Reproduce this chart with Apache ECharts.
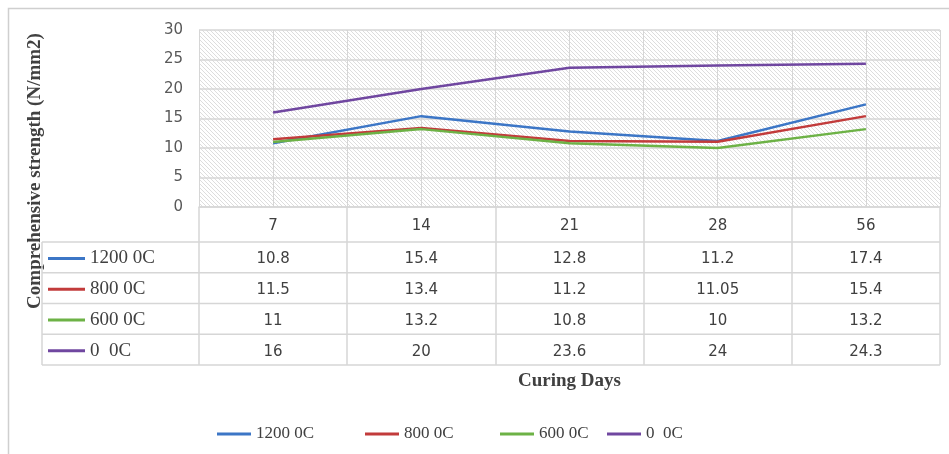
<!DOCTYPE html>
<html>
<head>
<meta charset="utf-8">
<script src="https://cdn.jsdelivr.net/npm/echarts@6/dist/echarts.min.js"></script>
<style>
html,body{margin:0;padding:0;background:#fff;}
#chart{width:949px;height:454px;}
</style>
</head>
<body>
<div id="chart"></div>
<script>
const days = ['7', '14', '21', '28', '56'];
const seriesNames = ['1200 0C', '800 0C', '600 0C', '0  0C'];
const s1200 = [10.8, 15.4, 12.8, 11.2, 17.4];
const s800 = [11.5, 13.4, 11.2, 11.05, 15.4];
const s600 = [11, 13.2, 10.8, 10, 13.2];
const s0 = [16, 20, 23.6, 24, 24.3];
const yTicks = [0, 5, 10, 15, 20, 25, 30];
const halfCols = ['a','b','c','d','e','f','g','h','i','j'];

const allSeries = [s1200, s800, s600, s0];
const colors = ['#3C76C6', '#C23B3B', '#6DB246', '#7047A0'];
const gridLine = '#d6d6d6';
const textCol = '#404040';

// hatched pattern
const pc = document.createElement('canvas');
pc.width = 4; pc.height = 4;
const pctx = pc.getContext('2d');
pctx.fillStyle = '#ffffff';
pctx.fillRect(0, 0, 4, 4);
pctx.strokeStyle = '#dddddd';
pctx.lineWidth = 1;
pctx.beginPath();
pctx.moveTo(-1, -1); pctx.lineTo(5, 5);
pctx.moveTo(-1, 3); pctx.lineTo(1, 5);
pctx.moveTo(3, -1); pctx.lineTo(5, 1);
pctx.stroke();

const chart = echarts.init(document.getElementById('chart'));

const G = {left: 199, right: 9, top: 30, bottom: 247};
const tableLeft = 42, tableRight = 940;
const rowTop = 242, rowH = 30.75;

const graphics = [
  {type: 'rect', shape: {x: 8.5, y: 8.5, width: 1000, height: 1000},
   style: {fill: 'none', stroke: '#cfcfcf', lineWidth: 1.5}, silent: true},
  {type: 'text', x: 35, y: 171, rotation: Math.PI / 2,
   style: {text: 'Comprehensive strength (N/mm2)', font: 'bold 19px "Liberation Serif", serif',
           fill: textCol, align: 'center', verticalAlign: 'middle'}},
  {type: 'line', shape: {x1: tableLeft, y1: rowTop, x2: tableLeft, y2: rowTop + 4 * rowH},
   style: {stroke: gridLine, lineWidth: 1.5}}
];
for (let k = 0; k <= seriesNames.length; k++) {
  const y = rowTop + k * rowH;
  graphics.push({type: 'line', shape: {x1: tableLeft, y1: y, x2: tableRight, y2: y},
    style: {stroke: gridLine, lineWidth: 1.5}});
}

const bottomLegendLeft = [212, 360, 495, 602];
const legends = [{
  orient: 'vertical', left: 43, top: 243.5, itemGap: 10.75,
  itemWidth: 37, itemHeight: 3, icon: 'rect',
  data: seriesNames, selectedMode: false,
  textStyle: {fontFamily: '"Liberation Serif", serif', fontSize: 19, color: textCol, lineHeight: 20}
}];
seriesNames.forEach((n, i) => {
  legends.push({
    left: bottomLegendLeft[i], top: 419, itemWidth: 34, itemHeight: 3, icon: 'rect',
    data: [n], selectedMode: false,
    textStyle: {fontFamily: '"Liberation Serif", serif', fontSize: 17, color: textCol, lineHeight: 20}
  });
});

const option = {
  backgroundColor: '#ffffff',
  animation: false,
  color: colors,
  grid: Object.assign({show: true, borderWidth: 0, backgroundColor: {image: pc, repeat: 'repeat'}}, G),
  legend: legends,
  xAxis: [{
    type: 'category', data: days, boundaryGap: true,
    name: 'Curing Days', nameLocation: 'middle', nameGap: 165,
    nameTextStyle: {fontFamily: '"Liberation Serif", serif', fontWeight: 'bold', fontSize: 19, color: textCol},
    axisLine: {show: true, lineStyle: {color: gridLine, width: 1.5}},
    axisTick: {show: true, interval: 0, length: 158, lineStyle: {color: gridLine, width: 1.5}},
    splitLine: {show: false},
    axisLabel: {
      interval: 0, margin: 2,
      formatter: function (v, i) {
        const rows = ['{h|' + v + '}'];
        allSeries.forEach(s => rows.push('{r|' + s[i] + '}'));
        return rows.join('\n');
      },
      rich: {
        h: {fontFamily: '"DejaVu Sans", sans-serif', fontSize: 15, color: textCol, lineHeight: 35, align: 'center'},
        r: {fontFamily: '"DejaVu Sans", sans-serif', fontSize: 15, color: textCol, lineHeight: 30.75, align: 'center'}
      }
    }
  }, {
    type: 'category', data: halfCols, boundaryGap: true, position: 'bottom',
    axisLine: {show: false}, axisTick: {show: false}, axisLabel: {show: false},
    splitLine: {show: true, interval: 0, lineStyle: {color: gridLine, width: 1}}
  }],
  yAxis: {
    type: 'value', min: yTicks[0], max: yTicks[yTicks.length - 1], interval: 5,
    axisLine: {show: false}, axisTick: {show: false},
    axisLabel: {margin: 16, fontFamily: '"DejaVu Sans", sans-serif', fontSize: 15, color: '#595959',
                lineHeight: 22, verticalAlign: 'middle', padding: [4, 0, 0, 0]},
    splitLine: {show: true, lineStyle: {color: gridLine, width: 1.5}}
  },
  series: allSeries.map((s, i) => ({
    name: seriesNames[i], type: 'line', data: s, xAxisIndex: 0,
    symbol: 'none', lineStyle: {width: 2.5, color: colors[i]}, itemStyle: {color: colors[i]}, z: 3
  })),
  graphic: graphics
};
chart.setOption(option);
</script>
</body>
</html>
